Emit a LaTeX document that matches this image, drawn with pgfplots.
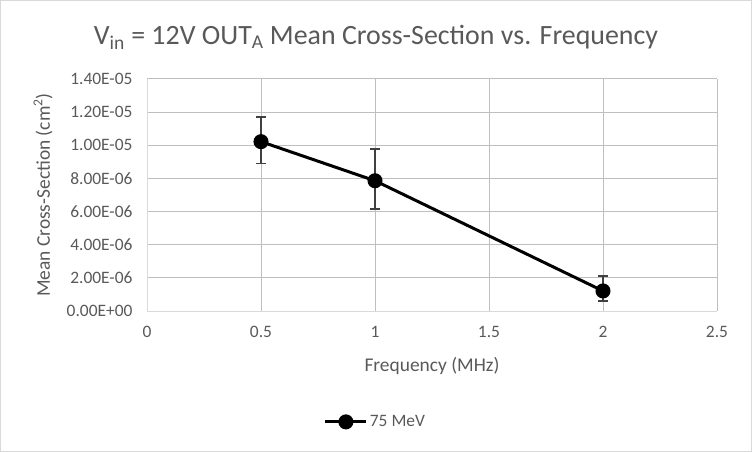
\documentclass[border=0pt]{standalone}
\usepackage{fontspec}
\setmainfont{Carlito}
\usepackage{pgfplots}
\pgfplotsset{compat=1.18}
\definecolor{txt}{HTML}{595959}
\definecolor{grid}{HTML}{D9D9D9}
\definecolor{ebar}{HTML}{404040}
\begin{document}
\begin{tikzpicture}
\draw[grid, line width=1bp] (0.5bp,0.5bp) rectangle (751.5bp,451.5bp);
\begin{axis}[
  at={(147bp,141bp)}, anchor=south west,
  scale only axis, width=570bp, height=232bp,
  xmin=0, xmax=2.5, ymin=0, ymax=1.4e-5,
  xtick={0,0.5,1,1.5,2,2.5},
  xticklabels={0,0.5,1,1.5,2,2.5},
  ytick={0,2e-6,4e-6,6e-6,8e-6,1e-5,1.2e-5,1.4e-5},
  yticklabels={0.00E+00,2.00E-06,4.00E-06,6.00E-06,8.00E-06,1.00E-05,1.20E-05,1.40E-05},
  scaled y ticks=false,
  grid=major,
  major grid style={grid, line width=1bp},
  axis line style={grid, line width=1bp},
  axis x line*=bottom, axis y line*=left,
  tick style={draw=none},
  major tick length=0pt,
  tick label style={txt, font=\fontsize{17.5}{20}\selectfont},
  yticklabel style={anchor=east, xshift=-11bp},
  xticklabel style={anchor=north, yshift=-12bp},
  xlabel={Frequency (MHz)},
  ylabel={Mean Cross-Section (cm\textsuperscript{2})},
  label style={txt, font=\fontsize{19.5}{22}\selectfont},
  xlabel style={at={(axis description cs:0.5,-0.237)}, anchor=center},
  ylabel style={at={(axis description cs:-0.1825,0.5)}, anchor=center, rotate=0},
  legend style={at={(axis description cs:0.31,-0.478)}, anchor=west, draw=none, fill=none,
    font=\fontsize{17.5}{20}\selectfont, text=txt, inner sep=0pt},
  legend image code/.code={
    \draw[#1, mark=none] (0bp,0bp) -- (41bp,0bp);
    \draw[#1] plot coordinates {(20.5bp,0bp)};
  },
]
\addplot[black, line width=3bp, mark=*, mark size=6bp,
  error bars/.cd, y dir=both, y explicit,
  error bar style={ebar, line width=1.5bp},
  error mark options={ebar, line width=1.5bp, mark size=5bp, rotate=90}]
  coordinates {
  (0.5,1.022e-5) += (0,1.50e-6) -= (0,1.33e-6)
  (1,7.86e-6) += (0,1.92e-6) -= (0,1.71e-6)
  (2,1.21e-6) += (0,0.89e-6) -= (0,0.60e-6)
};
\addlegendentry{75 MeV}
\end{axis}
\node[txt, font=\fontsize{28}{32}\selectfont] at (376bp,415bp)
  {V\textsubscript{in} = 12V OUT\textsubscript{A} Mean Cross-Section vs. Frequency};
\end{tikzpicture}
\end{document}
